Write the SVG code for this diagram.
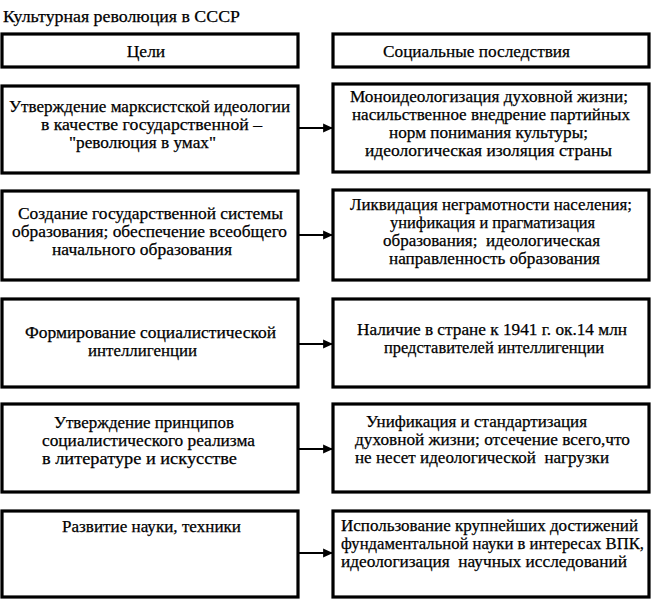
<svg xmlns="http://www.w3.org/2000/svg" width="652" height="599" viewBox="0 0 652 599">
<style>
text{font-family:"Liberation Serif","Times New Roman",serif;font-size:16.5px;fill:#000;stroke:#000;stroke-width:0.25}
.big{font-size:17.5px}
.box{fill:#fff;stroke:#000;stroke-width:3.2}
.c{text-anchor:middle}
.con line{stroke:#000;stroke-width:2.2}
</style>
<defs>
<marker id="ah" viewBox="0 0 10 10" refX="10" refY="5" markerWidth="4.5" markerHeight="4.5" orient="auto">
<path d="M0,0.5 L10,5 L0,9.5 Z" fill="#000"/>
</marker>
</defs>
<rect width="652" height="599" fill="#fff"/>
<text id="title" class="big" x="3" y="22" textLength="237" lengthAdjust="spacingAndGlyphs">Культурная революция в СССР</text>

<g id="h-goals"><rect class="box" x="2" y="34" width="296" height="33"/><text class="c big" x="146" y="57">Цели</text></g>
<g id="h-cons"><rect class="box" x="333" y="34" width="316" height="33"/><text class="big" x="383" y="57" textLength="187" lengthAdjust="spacingAndGlyphs">Социальные последствия</text></g>

<g id="g1"><rect class="box" x="2" y="86" width="296" height="87"/>
<text x="9" y="112" textLength="281" lengthAdjust="spacingAndGlyphs">Утверждение марксистской идеологии</text>
<text x="41" y="130" textLength="221" lengthAdjust="spacingAndGlyphs">в качестве государственной –</text>
<text x="69" y="148" textLength="147" lengthAdjust="spacingAndGlyphs">"революция в умах"</text></g>
<g id="c1"><rect class="box" x="333" y="84" width="316" height="88"/>
<text x="350" y="102" textLength="278" lengthAdjust="spacingAndGlyphs">Моноидеологизация духовной жизни;</text>
<text x="352" y="120" textLength="278" lengthAdjust="spacingAndGlyphs">насильственное внедрение партийных</text>
<text x="389" y="138" textLength="199" lengthAdjust="spacingAndGlyphs">норм понимания культуры;</text>
<text x="365" y="156" textLength="247" lengthAdjust="spacingAndGlyphs">идеологическая изоляция страны</text></g>

<g id="g2"><rect class="box" x="2" y="191" width="296" height="89"/>
<text x="18" y="219" textLength="265" lengthAdjust="spacingAndGlyphs">Создание государственной системы</text>
<text x="12" y="237" textLength="275" lengthAdjust="spacingAndGlyphs">образования; обеспечение всеобщего</text>
<text x="52" y="255" textLength="180" lengthAdjust="spacingAndGlyphs">начального образования</text></g>
<g id="c2"><rect class="box" x="333" y="190" width="316" height="90"/>
<text x="350" y="210" textLength="282" lengthAdjust="spacingAndGlyphs">Ликвидация неграмотности населения;</text>
<text x="390" y="228" textLength="205" lengthAdjust="spacingAndGlyphs">унификация и прагматизация</text>
<text x="383" y="246" xml:space="preserve" textLength="217" lengthAdjust="spacingAndGlyphs">образования;  идеологическая</text>
<text x="389" y="264" textLength="211" lengthAdjust="spacingAndGlyphs">направленность образования</text></g>

<g id="g3"><rect class="box" x="2" y="299" width="296" height="88"/>
<text x="25" y="338" textLength="251" lengthAdjust="spacingAndGlyphs">Формирование социалистической</text>
<text x="88" y="356" textLength="109" lengthAdjust="spacingAndGlyphs">интеллигенции</text></g>
<g id="c3"><rect class="box" x="333" y="299" width="316" height="88"/>
<text x="357" y="335" textLength="270" lengthAdjust="spacingAndGlyphs">Наличие в стране к 1941 г. ок.14 млн</text>
<text x="384" y="353" textLength="220" lengthAdjust="spacingAndGlyphs">представителей интеллигенции</text></g>

<g id="g4"><rect class="box" x="2" y="404" width="296" height="88"/>
<text x="54" y="428" textLength="180" lengthAdjust="spacingAndGlyphs">Утверждение принципов</text>
<text x="42" y="446" textLength="213" lengthAdjust="spacingAndGlyphs">социалистического реализма</text>
<text x="42" y="464" textLength="195" lengthAdjust="spacingAndGlyphs">в литературе и искусстве</text></g>
<g id="c4"><rect class="box" x="333" y="404" width="316" height="88"/>
<text x="366" y="427" textLength="221" lengthAdjust="spacingAndGlyphs">Унификация и стандартизация</text>
<text x="355" y="445" textLength="275" lengthAdjust="spacingAndGlyphs">духовной жизни; отсечение всего,что</text>
<text x="355" y="463" xml:space="preserve" textLength="254" lengthAdjust="spacingAndGlyphs">не несет идеологической  нагрузки</text></g>

<g id="g5"><rect class="box" x="2" y="511" width="296" height="86"/>
<text x="62" y="532" textLength="179" lengthAdjust="spacingAndGlyphs">Развитие науки, техники</text></g>
<g id="c5"><rect class="box" x="333" y="511" width="316" height="86"/>
<text x="341" y="531" textLength="297" lengthAdjust="spacingAndGlyphs">Использование крупнейших достижений</text>
<text x="341" y="549" textLength="303" lengthAdjust="spacingAndGlyphs">фундаментальной науки в интересах ВПК,</text>
<text x="341" y="567" xml:space="preserve" textLength="286" lengthAdjust="spacingAndGlyphs">идеологизация  научных исследований</text></g>

<g id="connectors" class="con">
<line x1="299" y1="128" x2="333" y2="128" marker-end="url(#ah)"/>
<line x1="299" y1="235" x2="333" y2="235" marker-end="url(#ah)"/>
<line x1="299" y1="344" x2="333" y2="344" marker-end="url(#ah)"/>
<line x1="299" y1="449" x2="333" y2="449" marker-end="url(#ah)"/>
<line x1="299" y1="553" x2="333" y2="553" marker-end="url(#ah)"/>
</g>
</svg>
